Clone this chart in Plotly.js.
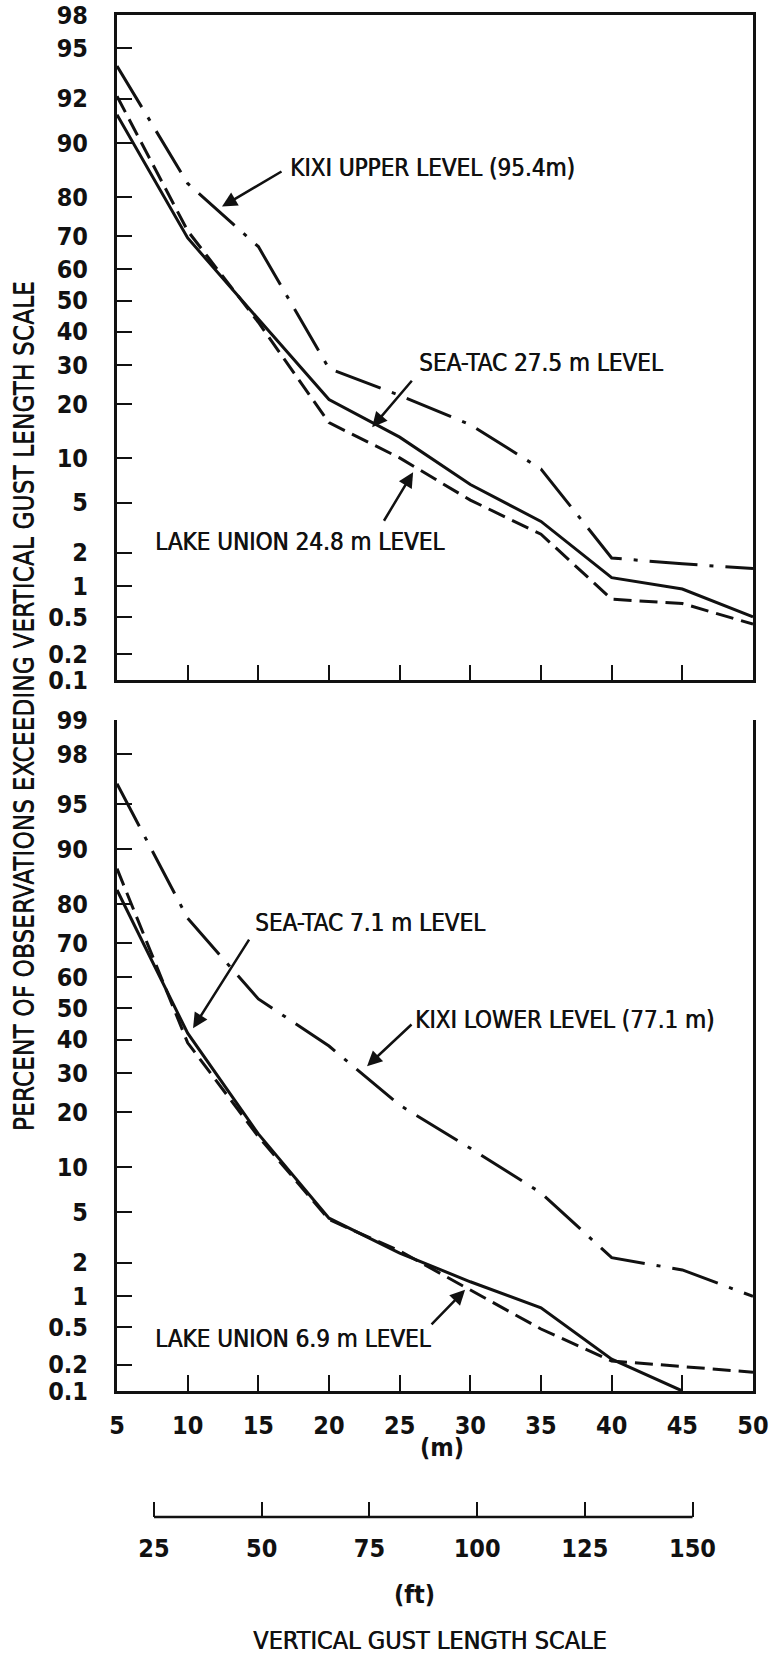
<!DOCTYPE html>
<html>
<head>
<meta charset="utf-8">
<script src="https://cdn.plot.ly/plotly-3.0.1.min.js"></script>
<style>
  html, body { margin: 0; padding: 0; background: #ffffff; }
  #chart { width: 769px; height: 1659px; }
</style>
</head>
<body>
<div id="chart"></div>
<script>
// ---------------- data ----------------
const gustLengthM = [5, 10, 15, 20, 25, 30, 35, 40, 45, 50];

// upper panel: percent of observations exceeding
const kixiUpper95 = [97.2, 83, 67, 29, 22, 15.6, 8.5, 1.8, 1.6, 1.45];
const seaTac275   = [93.5, 69.5, 44, 21, 13.3, 6.7, 3.6, 1.2, 0.94, 0.5];
const lakeUnion248 = [95.2, 71.5, 43, 16, 10, 5.2, 2.85, 0.75, 0.68, 0.42];

// lower panel
const kixiLower771 = [96.5, 76.6, 53, 38, 21.7, 12.9, 6.8, 2.2, 1.73, 1.0];
const seaTac71     = [83, 42, 15.5, 4.5, 2.4, 1.36, 0.78, 0.23, 0.1, null];
const lakeUnion69  = [87, 39, 15, 4.4, 2.5, 1.15, 0.48, 0.22, 0.19, 0.165];

// axis ticks
const tickPct = [99, 98, 95, 90, 80, 70, 60, 50, 40, 30, 20, 10, 5, 2, 1, 0.5, 0.2, 0.1];
const upperTickText = ["98", "95", "92", "90", "80", "70", "60", "50", "40", "30", "20", "10", "5", "2", "1", "0.5", "0.2", "0.1"];
const lowerTickText = ["99", "98", "95", "90", "80", "70", "60", "50", "40", "30", "20", "10", "5", "2", "1", "0.5", "0.2", "0.1"];
const upperMeterTicks = [10, 15, 20, 25, 30, 35, 40, 45];
const meterTicks = [5, 10, 15, 20, 25, 30, 35, 40, 45, 50];
const feetTicks = [25, 50, 75, 100, 125, 150];
const FT_PER_M = 3.28084;

// labels: [text, x (m), percent, panel]
const labelTexts = [
  ["KIXI UPPER LEVEL (95.4m)", 17.1, 86, 1],
  ["SEA-TAC 27.5 m LEVEL", 26.2, 30.7, 1],
  ["LAKE UNION 24.8 m LEVEL", 7.55, 2.46, 1],
  ["SEA-TAC 7.1 m LEVEL", 14.6, 75.3, 2],
  ["KIXI LOWER LEVEL (77.1 m)", 25.95, 46.1, 2],
  ["LAKE UNION 6.9 m LEVEL", 7.55, 0.38, 2]
];
// arrows: [tip x (m), tip percent, panel, tail dx px, tail dy px]
const arrowTips = [
  [12.43, 77.8, 1, 61, -36],
  [23.05, 15.1, 1, 41, -48],
  [25.95, 8.1, 1, -30, 50],
  [10.38, 43.6, 2, 57, -90],
  [22.69, 32.0, 2, 46, -43],
  [29.63, 1.15, 2, -35, 36]
];

// ---------------- normal-probability scale ----------------
function normInv(p) {
  const a = [-3.969683028665376e+01, 2.209460984245205e+02, -2.759285104469687e+02, 1.383577518672690e+02, -3.066479806614716e+01, 2.506628277459239e+00];
  const b = [-5.447609879822406e+01, 1.615858368580409e+02, -1.556989798598866e+02, 6.680131188771972e+01, -1.328068155288572e+01];
  const c = [-7.784894002430293e-03, -3.223964580411365e-01, -2.400758277161838e+00, -2.549732539343734e+00, 4.374664141464968e+00, 2.938163982698783e+00];
  const d = [7.784695709041462e-03, 3.224671290700398e-01, 2.445134137142996e+00, 3.754408661907416e+00];
  const pl = 0.02425, ph = 1 - pl;
  let q, r;
  if (p < pl) {
    q = Math.sqrt(-2 * Math.log(p));
    return (((((c[0]*q+c[1])*q+c[2])*q+c[3])*q+c[4])*q+c[5]) / ((((d[0]*q+d[1])*q+d[2])*q+d[3])*q+1);
  }
  if (p <= ph) {
    q = p - 0.5; r = q * q;
    return (((((a[0]*r+a[1])*r+a[2])*r+a[3])*r+a[4])*r+a[5])*q / (((((b[0]*r+b[1])*r+b[2])*r+b[3])*r+b[4])*r+1);
  }
  q = Math.sqrt(-2 * Math.log(1 - p));
  return -(((((c[0]*q+c[1])*q+c[2])*q+c[3])*q+c[4])*q+c[5]) / ((((d[0]*q+d[1])*q+d[2])*q+d[3])*q+1);
}
const pz = v => (v === null || v === undefined) ? null : normInv(v / 100);
const yRange = [pz(0.1), pz(99)];

// ---------------- styling ----------------
const INK = '#111111';
const numFont = { family: 'Liberation Sans Narrow, Arial Narrow, DejaVu Sans Condensed, sans-serif', size: 25, color: INK, weight: 'bold' };
const textFont = { family: 'DejaVu Sans Condensed, DejaVu Sans, sans-serif', size: 24, color: INK, shadow: '0.6px 0 0 #111111' };
const DASH = '18px,8px';
const DASHDOT = '48px,12px,4px,12px';

function line(y, dash, xa, ya, name) {
  return {
    x: gustLengthM, y: y.map(pz), type: 'scatter', mode: 'lines', name: name,
    xaxis: xa, yaxis: ya, connectgaps: false, hoverinfo: 'skip', showlegend: false,
    line: { color: INK, width: 3, dash: dash }
  };
}

const traces = [
  // carrier for the feet scale (overlays the lower panel, draws nothing)
  { x: feetTicks, y: feetTicks.map(() => null), type: 'scatter', mode: 'lines', xaxis: 'x3', yaxis: 'y2',
    hoverinfo: 'skip', showlegend: false, line: { color: 'rgba(0,0,0,0)' } },
  line(kixiUpper95, DASHDOT, 'x', 'y', 'KIXI upper level (95.4 m)'),
  line(seaTac275, 'solid', 'x', 'y', 'SEA-TAC 27.5 m level'),
  line(lakeUnion248, DASH, 'x', 'y', 'Lake Union 24.8 m level'),
  line(kixiLower771, DASHDOT, 'x2', 'y2', 'KIXI lower level (77.1 m)'),
  line(seaTac71, 'solid', 'x2', 'y2', 'SEA-TAC 7.1 m level'),
  line(lakeUnion69, DASH, 'x2', 'y2', 'Lake Union 6.9 m level')
];

const commonY = {
  range: yRange, tickvals: tickPct.map(pz), ticks: 'inside', ticklen: 15, tickwidth: 2, tickcolor: INK,
  showline: true, linewidth: 3, linecolor: INK, mirror: true, showgrid: false, zeroline: false,
  tickfont: numFont, ticklabelstandoff: 21, fixedrange: true, automargin: false
};

const layout = {
  width: 769, height: 1659,
  margin: { l: 117, r: 16, t: 15, b: 142, autoexpand: false },
  paper_bgcolor: '#ffffff', plot_bgcolor: 'rgba(0,0,0,0)',
  showlegend: false,
  xaxis: {
    domain: [0, 1], range: [5, 50], anchor: 'y', tickvals: upperMeterTicks, ticks: 'inside', ticklen: 15,
    tickwidth: 2, tickcolor: INK, showticklabels: false, showline: true, linewidth: 3, linecolor: INK,
    mirror: true, showgrid: false, zeroline: false, fixedrange: true, automargin: false
  },
  yaxis: Object.assign({}, commonY, { domain: [0.5573, 1], anchor: 'x', ticktext: upperTickText }),
  xaxis2: {
    domain: [0, 1], range: [5, 50], anchor: 'y2', tickvals: meterTicks, ticks: 'inside', ticklen: 16,
    tickwidth: 2, tickcolor: INK, showline: true, linewidth: 3, linecolor: INK, mirror: false,
    showgrid: false, zeroline: false, tickfont: numFont, ticklabelstandoff: 10, fixedrange: true, automargin: false
  },
  yaxis2: Object.assign({}, commonY, { domain: [0.0839, 0.5306], anchor: 'x2', ticktext: lowerTickText }),
  xaxis3: {
    overlaying: 'x2', range: [5 * FT_PER_M, 50 * FT_PER_M], anchor: 'free', position: 0, side: 'bottom',
    tickvals: feetTicks, ticks: 'inside', ticklen: 15, tickwidth: 2, tickcolor: INK, showline: false,
    showgrid: false, zeroline: false, tickfont: numFont, ticklabelstandoff: 14, fixedrange: true, automargin: false
  },
  shapes: [
    { type: 'line', xref: 'x3', yref: 'paper', x0: feetTicks[0], x1: feetTicks[feetTicks.length - 1], y0: 0, y1: 0,
      line: { color: INK, width: 2.5 } }
  ],
  annotations: []
};

labelTexts.forEach(([t, xm, pct, panel]) => {
  layout.annotations.push({
    text: t, x: xm, y: pz(pct), xref: panel === 1 ? 'x' : 'x2', yref: panel === 1 ? 'y' : 'y2',
    xanchor: 'left', yanchor: 'middle', showarrow: false, font: textFont
  });
});
arrowTips.forEach(([xm, pct, panel, dx, dy]) => {
  layout.annotations.push({
    text: '', x: xm, y: pz(pct), xref: panel === 1 ? 'x' : 'x2', yref: panel === 1 ? 'y' : 'y2',
    showarrow: true, arrowhead: 2, arrowsize: 1.2, arrowwidth: 2.5, arrowcolor: INK,
    ax: dx, ay: dy, standoff: 0
  });
});
// axis titles
layout.annotations.push(
  { text: 'PERCENT OF OBSERVATIONS EXCEEDING VERTICAL GUST LENGTH SCALE', textangle: -90,
    xref: 'paper', yref: 'paper', x: -0.1462, y: 0.54, xanchor: 'center', yanchor: 'middle',
    showarrow: false, font: Object.assign({}, textFont, { size: 26, shadow: '0 0.6px 0 #111111' }) },
  { text: '(m)', xref: 'paper', yref: 'paper', x: 0.511, y: 0.0466, xanchor: 'center', yanchor: 'middle',
    showarrow: false, font: numFont },
  { text: '(ft)', xref: 'paper', yref: 'paper', x: 0.467, y: -0.0519, xanchor: 'center', yanchor: 'middle',
    showarrow: false, font: numFont },
  { text: 'VERTICAL GUST LENGTH SCALE', xref: 'paper', yref: 'paper', x: 0.492, y: -0.0819,
    xanchor: 'center', yanchor: 'middle', showarrow: false, font: Object.assign({}, textFont, { size: 25 }) }
);

Plotly.newPlot('chart', traces, layout, { staticPlot: true, displayModeBar: false });
</script>
</body>
</html>
